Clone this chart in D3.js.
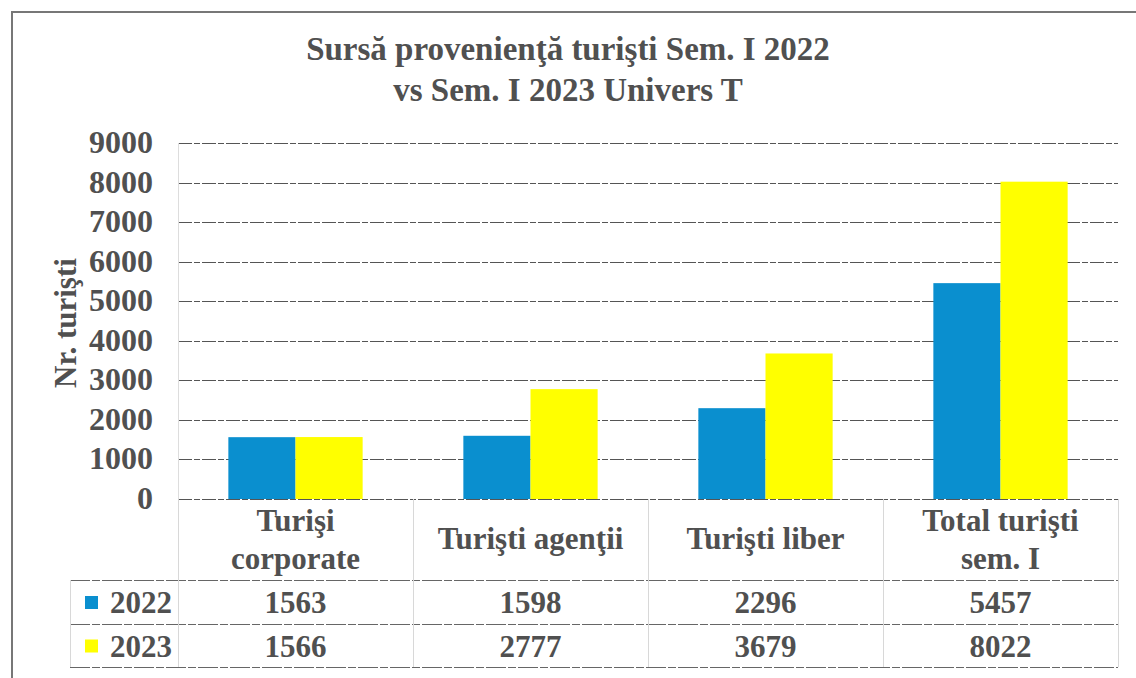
<!DOCTYPE html>
<html>
<head>
<meta charset="utf-8">
<script src="https://cdn.jsdelivr.net/npm/d3@7"></script>
<style>
  body { margin: 0; background: #fff; }
  text { font-family: "Liberation Serif", "DejaVu Serif", serif; font-weight: bold; fill: #505050; }
</style>
</head>
<body>
<div class="chart"></div>
<script>
var categories = [["Turişi", "corporate"], ["Turişti agenţii"], ["Turişti liber"], ["Total turişti", "sem. I"]];
var series = ["2022", "2023"];
var values2022 = [1563, 1598, 2296, 5457];
var values2023 = [1566, 2777, 3679, 8022];
var yTicks = [0, 1000, 2000, 3000, 4000, 5000, 6000, 7000, 8000, 9000];
var colors = ["#0a8fcf", "#ffff00"];

var width = 1136, height = 678;
var plotLeft = 178, plotRight = 1118, plotTop = 143, plotBottom = 499;
var rowY = [499, 580, 624, 667];
var legendLeft = 70;

var svg = d3.select(".chart").append("svg")
    .attr("width", width)
    .attr("height", height);

// outer frame of the scan
svg.append("path")
    .attr("d", "M12,678 L12,12 L1136,12")
    .attr("fill", "none")
    .attr("stroke", "#777")
    .attr("stroke-width", 2);

// title
svg.append("text").attr("x", 568).attr("y", 60).attr("text-anchor", "middle")
    .style("font-size", "33px").text("Sursă provenienţă turişti Sem. I 2022");
svg.append("text").attr("x", 568).attr("y", 101).attr("text-anchor", "middle")
    .style("font-size", "33px").text("vs Sem. I 2023 Univers T");

var keys = categories.map(function (d) { return d.join(" "); });

var x = d3.scaleBand()
    .domain(keys)
    .range([plotLeft, plotRight])
    .padding(0);

var x1 = d3.scaleBand()
    .domain(series)
    .range([0, x.bandwidth()])
    .paddingInner(0)
    .paddingOuter(0.75);

var y = d3.scaleLinear()
    .domain([0, 9000])
    .range([plotBottom, plotTop]);

// gridlines
svg.append("g").selectAll("line")
    .data(yTicks)
    .enter().append("line")
    .attr("x1", plotLeft).attr("x2", plotRight)
    .attr("y1", function (d) { return Math.round(y(d)) + 0.5; })
    .attr("y2", function (d) { return Math.round(y(d)) + 0.5; })
    .attr("stroke", "#555")
    .attr("stroke-width", 1.2)
    .attr("stroke-dasharray", "14,2,6,2");

// faint y axis line
svg.append("line")
    .attr("x1", plotLeft + 0.5).attr("x2", plotLeft + 0.5)
    .attr("y1", plotTop).attr("y2", plotBottom)
    .attr("stroke", "#ddd");

// y tick labels
svg.append("g").selectAll("text")
    .data(yTicks)
    .enter().append("text")
    .attr("x", 153)
    .attr("y", function (d) { return y(d) + 10; })
    .attr("text-anchor", "end")
    .style("font-size", "32px")
    .text(function (d) { return d; });

// y axis title
svg.append("text")
    .attr("transform", "translate(76,323) rotate(-90)")
    .attr("text-anchor", "middle")
    .style("font-size", "31px")
    .text("Nr. turişti");

// bars
var data = keys.map(function (k, i) {
    return { key: k, vals: [values2022[i], values2023[i]] };
});

var groups = svg.append("g").selectAll("g")
    .data(data)
    .enter().append("g")
    .attr("transform", function (d) { return "translate(" + x(d.key) + ",0)"; });

groups.selectAll("rect")
    .data(function (d) { return d.vals.map(function (v, j) { return { s: series[j], v: v, c: colors[j] }; }); })
    .enter().append("rect")
    .attr("x", function (d) { return x1(d.s); })
    .attr("width", x1.bandwidth())
    .attr("y", function (d) { return y(d.v); })
    .attr("height", function (d) { return y(0) - y(d.v); })
    .attr("fill", function (d) { return d.c; });

// data table
var table = svg.append("g");

rowY.slice(1).forEach(function (ry) {
    table.append("line")
        .attr("x1", legendLeft).attr("x2", plotRight)
        .attr("y1", ry + 0.5).attr("y2", ry + 0.5)
        .attr("stroke", "#666").attr("stroke-width", 1.2)
        .attr("stroke-dasharray", "20,2,8,2");
});

x.domain().concat(["end"]).forEach(function (k) {
    var xx = k === "end" ? plotRight : x(k);
    table.append("line")
        .attr("x1", xx + 0.5).attr("x2", xx + 0.5)
        .attr("y1", plotBottom).attr("y2", rowY[3])
        .attr("stroke", "#d8d8d8");
});
table.append("line")
    .attr("x1", legendLeft + 0.5).attr("x2", legendLeft + 0.5)
    .attr("y1", rowY[1]).attr("y2", rowY[3])
    .attr("stroke", "#d8d8d8");

// category header labels
categories.forEach(function (lines, i) {
    var cx = x(keys[i]) + x.bandwidth() / 2;
    var t = table.append("text")
        .attr("x", cx)
        .attr("text-anchor", "middle")
        .style("font-size", "31px");
    var y0 = lines.length === 1 ? 549 : 531;
    lines.forEach(function (line, j) {
        t.append("tspan").attr("x", cx).attr("y", y0 + j * 38).text(line);
    });
});

// legend + values rows
[values2022, values2023].forEach(function (vals, r) {
    var cy = (rowY[r + 1] + rowY[r + 2]) / 2;
    table.append("rect")
        .attr("x", 85).attr("y", cy - 6)
        .attr("width", 13).attr("height", 13)
        .attr("fill", colors[r]);
    table.append("text")
        .attr("x", 172).attr("y", cy + 11)
        .attr("text-anchor", "end")
        .style("font-size", "31px")
        .text(series[r]);
    vals.forEach(function (v, i) {
        table.append("text")
            .attr("x", x(keys[i]) + x.bandwidth() / 2)
            .attr("y", cy + 11)
            .attr("text-anchor", "middle")
            .style("font-size", "31px")
            .text(v);
    });
});
</script>
</body>
</html>
